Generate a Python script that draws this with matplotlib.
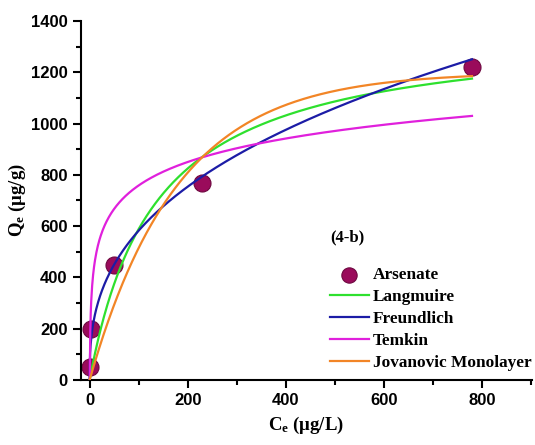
import numpy as np
import matplotlib
matplotlib.use("Agg")
import matplotlib.pyplot as plt
from matplotlib.ticker import MultipleLocator

# measured equilibrium points (arsenate)
ce_obs = [0, 2, 50, 230, 780]
qe_obs = [50, 200, 450, 770, 1220]

# fitted isotherm parameters
langmuir_qm, langmuir_k = 1377.0, 0.00746
freundlich_kf, freundlich_n = 105.0, 1 / 0.372
temkin_b, temkin_a = 132.0, 3.13
jovanovic_qm, jovanovic_k = 1200.0, 0.0056

series_names = ["Langmuire", "Freundlich", "Temkin", "Jovanovic Monolayer"]
series_colors = ["#2ee02e", "#1c1ca6", "#e020dc", "#f28526"]

plt.rcParams["mathtext.fontset"] = "custom"
plt.rcParams["mathtext.rm"] = "Liberation Serif:bold"
plt.rcParams["mathtext.it"] = "Liberation Serif:bold"
plt.rcParams["mathtext.bf"] = "Liberation Serif:bold"

serif = {"family": "Liberation Serif", "weight": "bold", "size": 12}
label_font = {"family": "Liberation Serif", "weight": "bold", "size": 13.5}

fig = plt.figure(figsize=(5.35, 4.45), dpi=100)
ax = fig.add_axes([0.151, 0.146, 0.843, 0.807])

c = np.linspace(0, 780, 800)
# Temkin is only defined above C = 1/A
c_t = np.linspace(1 / temkin_a, 780, 800)
curves_x = [c, c, c_t, c]
curves = [
    langmuir_qm * langmuir_k * c / (1 + langmuir_k * c),
    freundlich_kf * c ** (1 / freundlich_n),
    temkin_b * np.log(temkin_a * c_t),
    jovanovic_qm * (1 - np.exp(-jovanovic_k * c)),
]

ax.scatter(ce_obs, qe_obs, s=150, color="#9a0b5b", edgecolor="#6e0840",
           linewidth=0.8, zorder=2, label="Arsenate")
for x, y, name, col in zip(curves_x, curves, series_names, series_colors):
    ax.plot(x, y, color=col, lw=1.6, zorder=3, label=name)

ax.set_xlim(-18, 902)
ax.set_ylim(0, 1400)
ax.xaxis.set_major_locator(MultipleLocator(200))
ax.xaxis.set_minor_locator(MultipleLocator(100))
ax.yaxis.set_major_locator(MultipleLocator(200))
ax.yaxis.set_minor_locator(MultipleLocator(100))
for s in ["top", "right"]:
    ax.spines[s].set_visible(False)
for s in ["left", "bottom"]:
    ax.spines[s].set_linewidth(1.5)
ax.tick_params(which="major", direction="out", length=6, width=1.5)
ax.tick_params(which="minor", direction="out", length=3.5, width=1.5)
for lab in ax.get_xticklabels() + ax.get_yticklabels():
    lab.set_fontfamily("Liberation Sans")
    lab.set_fontweight("bold")
    lab.set_fontsize(12)

ax.set_xlabel(r"$\mathrm{C_e}$ (μg/L)", fontdict=label_font, labelpad=5)
ax.set_ylabel(r"$\mathrm{Q_e}$ (μg/g)", fontdict=label_font, labelpad=2)

ax.text(525, 557, "(4-b)", ha="center", va="center", **serif)

ax.legend(loc="lower right", bbox_to_anchor=(1.018, 0.0), frameon=False,
          prop={"family": "Liberation Serif", "weight": "bold", "size": 12.4},
          handlelength=2.3, handletextpad=0.2, labelspacing=0.35,
          borderaxespad=0.1, markerscale=0.9)

fig.savefig("out.png", dpi=100)
